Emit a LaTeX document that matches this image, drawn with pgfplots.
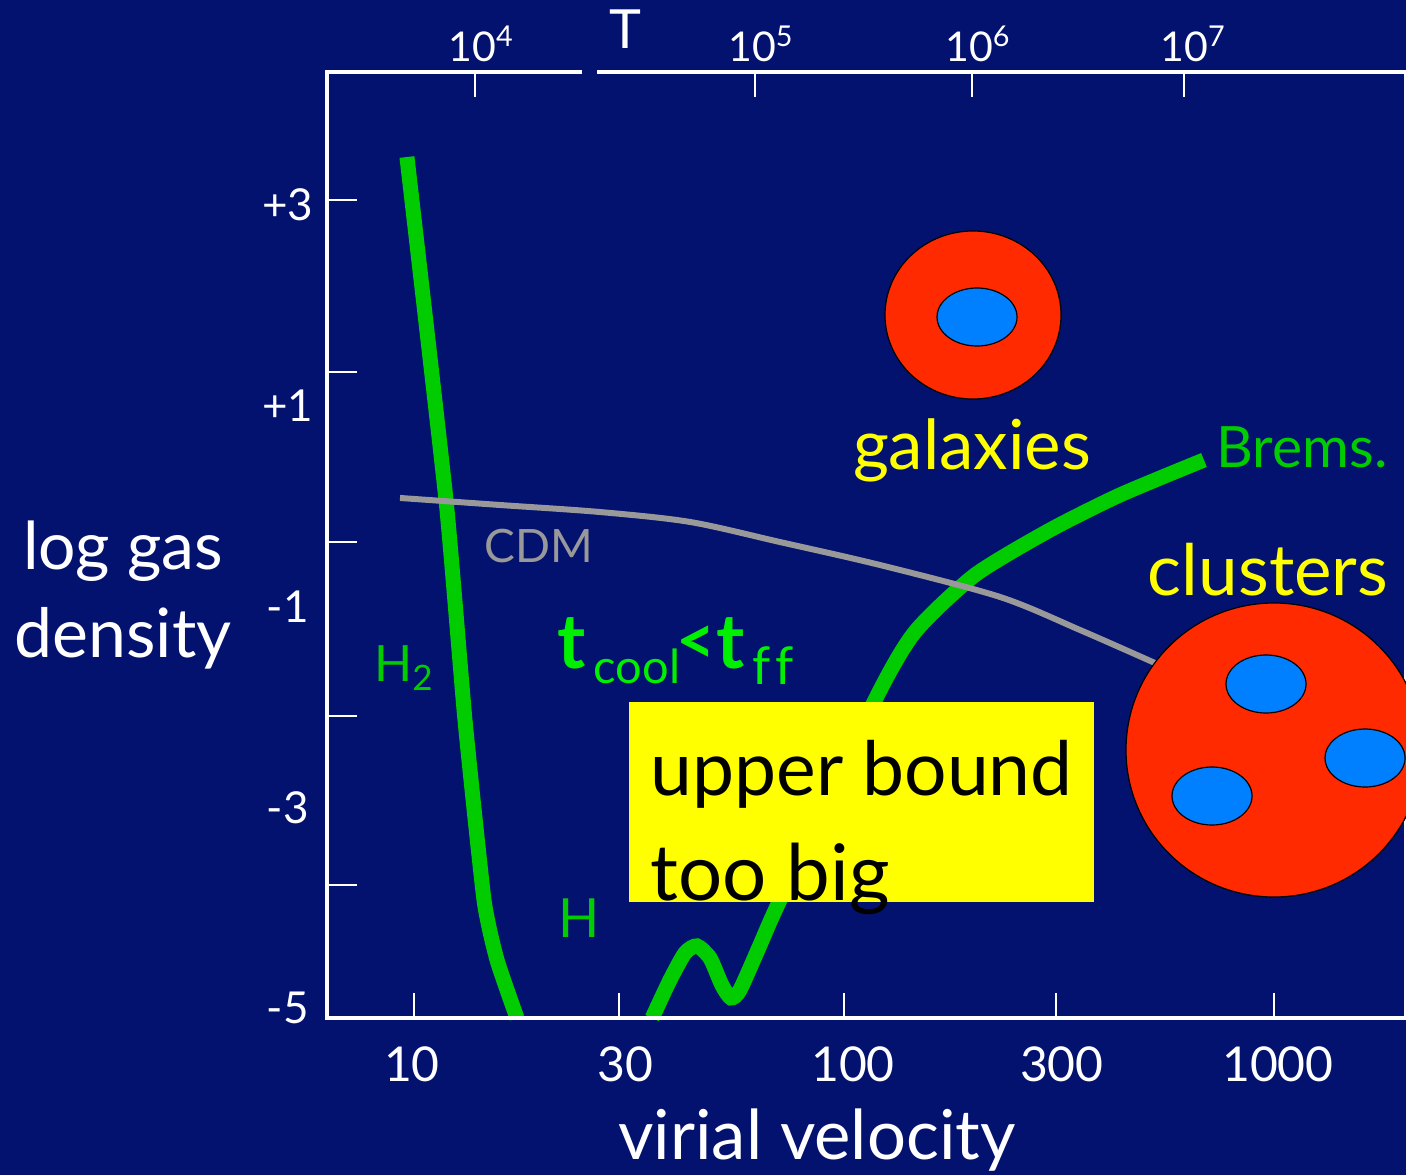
\documentclass[border=0pt]{standalone}
\usepackage{pgfplots}
\pgfplotsset{compat=1.18}
\usepackage{fontspec}
\setmainfont{Lato}
\definecolor{navybg}{HTML}{03126F}
\definecolor{cgreen}{HTML}{00CC00}
\definecolor{lgreen}{HTML}{00F000}
\definecolor{cred}{HTML}{FF2A00}
\definecolor{cblue}{HTML}{0080FF}
\definecolor{cgray}{HTML}{999999}
\definecolor{cyellow}{HTML}{FFFF00}
\newcommand{\fs}[1]{\fontsize{#1}{#1}\selectfont}
\begin{document}
\begin{tikzpicture}
\clip (0pt,0pt) rectangle (703pt,587.5pt);
\fill[navybg] (0pt,0pt) rectangle (703pt,587.5pt);
\begin{axis}[
  at={(163.5pt,78.5pt)},anchor=south west,scale only axis,
  width=539.5pt,height=473pt,
  xmode=log,
  xmin=6.277,xmax=2028,ymin=-5.098,ymax=4.325,
  clip=false,
  axis line style={white,line width=2.4pt},
  major tick style={white,line width=1pt},
  tick align=inside,major tick length=12.5pt,
  y tick style={/pgfplots/major tick length=15pt},
  xtick={10,30,100,311,1000},
  xticklabels={\kern-2pt 10,\kern6pt 30,\kern9pt 100,\kern6pt 300,\kern4pt 1000},
  minor xtick={},
  xticklabel pos=bottom,
  xtick pos=bottom,
  x tick label style={white,font=\fs{24},yshift=-11pt},
  ytick={3.05,1.337,-0.357,-2.09,-3.773},
  yticklabels={},
  ytick pos=left,
]
\addplot[cgreen,line width=7.5pt,smooth,tension=0.3] coordinates {
 (9.63,3.478)(11.87,0.062)(13.14,-2.129)(14.55,-3.922)(15.6,-4.52)(17.36,-5.098)};
\addplot[cgreen,line width=7.5pt,smooth,tension=0.4] coordinates {
 (35.8,-5.098)(39.4,-4.719)(42.7,-4.450)(45.5,-4.380)(48.8,-4.500)(52.0,-4.769)(54.6,-4.898)(57.3,-4.819)(63.8,-4.371)(71.0,-3.922)(118.1,-1.930)(146.2,-1.253)(201.7,-0.685)(301.4,-0.237)(438.5,0.112)(687.3,0.460)};
\addplot[cgray,line width=3pt,smooth,tension=0.5] coordinates {
 (9.28,0.082)(15.85,0.012)(27.08,-0.058)(43.85,-0.157)(71.0,-0.357)(121.3,-0.586)(230.6,-0.904)(353.9,-1.233)(528.8,-1.562)};
\node[white,font=\fs{22}] at (axis cs:6.3,3) [xshift=-20pt]{+3};
\node[white,font=\fs{22}] at (axis cs:6.3,1) [xshift=-20pt]{+1};
\node[white,font=\fs{22}] at (axis cs:6.3,-1)[xshift=-20pt]{-1};
\node[white,font=\fs{22}] at (axis cs:6.3,-3)[xshift=-20pt]{-3};
\node[white,font=\fs{22}] at (axis cs:6.3,-5)[xshift=-20pt]{-5};
\end{axis}
\begin{axis}[
  at={(163.5pt,78.5pt)},anchor=south west,scale only axis,
  width=539.5pt,height=473pt,
  xmode=log,
  xmin=6.277,xmax=2028,ymin=-5.098,ymax=4.325,
  clip=false,
  axis line style={white,line width=2.4pt},
  major tick style={white,line width=1pt},
  tick align=inside,major tick length=12.5pt,
  xtick={13.87,62.1,198.5,617.8},
  xticklabels={10\textsuperscript{4},10\textsuperscript{5},10\textsuperscript{6},\kern3pt 10\textsuperscript{7}},
  minor xtick={},
  xticklabel pos=top,xtick pos=top,
  x tick label style={white,font=\fs{20.5},xshift=3pt,yshift=1.5pt},
  ytick=\empty,
]
\end{axis}
\begin{scope}[shift={(0pt,587.5pt)},x=0.5pt,y=-0.5pt]
\fill[navybg] (582,66) rectangle (597,79);
\fill[cred,draw=black,line width=0.6pt] (973,315) ellipse [x radius=88,y radius=84];
\fill[cblue,draw=black,line width=0.6pt] (977,317) ellipse [x radius=40,y radius=29];
\fill[cred,draw=black,line width=0.6pt] (1274,750) ellipse [x radius=148,y radius=147];
\fill[cblue,draw=black,line width=0.6pt] (1266,684) ellipse [x radius=40,y radius=29];
\fill[cblue,draw=black,line width=0.6pt] (1365,758) ellipse [x radius=40,y radius=29];
\fill[cblue,draw=black,line width=0.6pt] (1212,796) ellipse [x radius=40,y radius=29];
\fill[cyellow] (629,702) rectangle (1094,902);
\node[anchor=west,inner sep=0pt,black,font=\fs{37.5}] at (650,774) {upper bound};
\node[anchor=west,inner sep=0pt,black,font=\fs{39}] at (650,879) {too big};
\node[cyellow,font=\fs{34.5}] at (972,450) {galaxies};
\node[cyellow,font=\fs{35.5}] at (1268,570) {clusters};
\node[cgreen,font=\fs{28.5}] at (1302,447) {Brems.};
\node[cgray,font=\fs{23}] at (539,546) {CDM};
\node[cgreen,font=\fs{25}] at (404,668) {H\textsubscript{2}};
\node[cgreen,font=\fs{27}] at (579,918) {H};
\node[lgreen,font=\fs{38}\bfseries] at (572,643) {t};
\node[lgreen,font=\fs{23.5}] at (637,666) {cool};
\node[lgreen,font=\fs{34}\bfseries] at (696,645) {<};
\node[lgreen,font=\fs{38}\bfseries] at (731,643) {t};
\node[lgreen,font=\fs{26}] at (773,666) {f\kern2.5pt f};
\node[white,font=\fs{33}] at (123,551) {log gas};
\node[white,font=\fs{34}] at (123,638) {density};
\node[white,font=\fs{34.4}] at (817,1140) {virial velocity};
\node[white,font=\fs{27}] at (625,29) {T};
\end{scope}
\end{tikzpicture}
\end{document}
